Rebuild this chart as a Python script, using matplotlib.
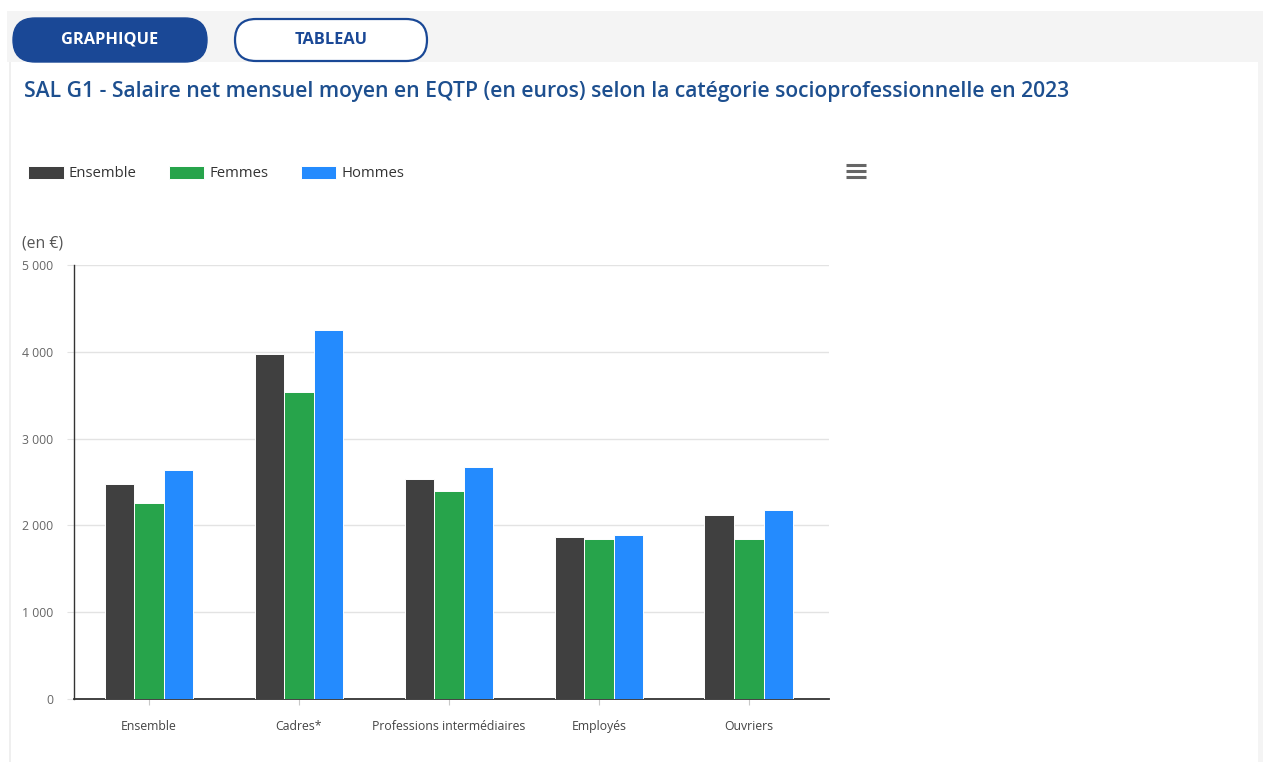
import matplotlib.pyplot as plt
from matplotlib.patches import FancyBboxPatch, Rectangle
import numpy as np

plt.rcParams['font.family'] = ['Open Sans', 'DejaVu Sans']

# data: salaire net mensuel moyen en EQTP, 2023 (euros)
categories = ["Ensemble", "Cadres*", "Professions intermédiaires", "Employés", "Ouvriers"]
ensemble = [2477, 3975, 2535, 1863, 2116]
femmes = [2262, 3533, 2393, 1847, 1847]
hommes = [2635, 4251, 2676, 1889, 2177]
series_names = ["Ensemble", "Femmes", "Hommes"]
series_colors = ["#404040", "#27a44b", "#248bfe"]
yticks = [0, 1000, 2000, 3000, 4000, 5000]
ytick_labels = ["0", "1 000", "2 000", "3 000", "4 000", "5 000"]

W, H = 1263, 762
fig = plt.figure(figsize=(W / 100, H / 100), dpi=100)
fig.patch.set_facecolor("white")

# page decoration in pixel coordinates
bg = fig.add_axes([0, 0, 1, 1], zorder=0)
bg.set_xlim(0, W)
bg.set_ylim(H, 0)
bg.axis("off")
bg.add_patch(Rectangle((7, 11), 1252, 51, facecolor="#f4f4f4", edgecolor="none"))
bg.add_patch(Rectangle((9, 62), 2, 700, facecolor="#efefef", edgecolor="none"))
bg.add_patch(Rectangle((1258, 11), 5, 751, facecolor="#f4f4f4", edgecolor="none"))

blue = "#1a4896"
bg.add_patch(FancyBboxPatch((13, 18), 194, 44, boxstyle="round,pad=0,rounding_size=22",
                            facecolor=blue, edgecolor=blue, lw=1))
bg.add_patch(FancyBboxPatch((235, 19), 192, 42, boxstyle="round,pad=0,rounding_size=21",
                            facecolor="white", edgecolor=blue, lw=1.6))
bg.text(110, 40, "GRAPHIQUE", color="white", fontsize=11.8, fontweight="bold",
        ha="center", va="center")
bg.text(331, 40, "TABLEAU", color=blue, fontsize=11.8, fontweight="bold",
        ha="center", va="center")

bg.text(24, 91, "SAL G1 - Salaire net mensuel moyen en EQTP (en euros) selon la catégorie "
        "socioprofessionnelle en 2023", color="#1d4f8f", fontsize=15.2, fontweight="semibold",
        ha="left", va="center")

# menu icon
for yy in (165, 171, 177):
    bg.plot([846, 866], [yy, yy], color="#666666", lw=2.2, solid_capstyle="butt")

bg.text(22, 243, "(en €)", color="#555555", fontsize=11.3, ha="left", va="center")

# chart
ax = fig.add_axes([74 / W, 1 - 699 / H, 755 / W, 434 / H], zorder=1)
x = np.arange(len(categories))
bw = 0.197
handles = []
for i, (vals, name, col) in enumerate(zip([ensemble, femmes, hommes], series_names, series_colors)):
    b = ax.bar(x + (i - 1) * bw, vals, width=bw, color=col, edgecolor="white",
               linewidth=0.7, label=name, zorder=3)
    handles.append(b)

ax.set_xlim(-0.5, 4.535)
ax.set_ylim(0, 5000)
ax.set_yticks(yticks)
ax.set_yticklabels(ytick_labels)
ax.set_xticks(x)
ax.set_xticklabels(categories)
ax.grid(axis="y", color="#e3e3e3", lw=1, zorder=0)
ax.tick_params(axis="y", length=5, color="#e3e3e3", labelsize=8.8, labelcolor="#666666", pad=10)
ax.tick_params(axis="x", length=4, color="#c8c8c8", labelsize=8.8, labelcolor="#444444", pad=11)
for s in ("top", "right"):
    ax.spines[s].set_visible(False)
ax.spines["left"].set_color("#333333")
ax.spines["left"].set_linewidth(1)
ax.spines["bottom"].set_color("#333333")
ax.spines["bottom"].set_linewidth(1.3)

fig.legend(handles=handles, labels=series_names, loc="center left",
           bbox_to_anchor=(28 / W, 1 - 173.5 / H), ncol=3, frameon=False,
           fontsize=10.7, handlelength=2.4, handleheight=1.0, handletextpad=0.35,
           columnspacing=2.15, borderpad=0, borderaxespad=0, labelcolor="#333333")

fig.savefig("out.png", dpi=100)
